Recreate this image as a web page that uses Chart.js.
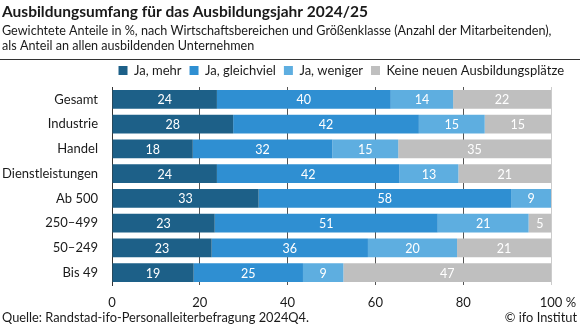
<!DOCTYPE html>
<html>
<head>
<meta charset="utf-8">
<script src="https://cdn.jsdelivr.net/npm/chart.js@4/dist/chart.umd.min.js"></script>
<style>
  html, body { margin: 0; padding: 0; background: #fff; }
  #wrap { width: 580px; height: 326px; position: relative; }
</style>
</head>
<body>
<div id="wrap"><canvas id="c" width="580" height="326"></canvas></div>
<script>
const FONT = "Lato, 'Liberation Sans', sans-serif";

const titleText = "Ausbildungsumfang für das Ausbildungsjahr 2024/25";
const subtitleLines = [
  "Gewichtete Anteile in %, nach Wirtschaftsbereichen und Größenklasse (Anzahl der Mitarbeitenden),",
  "als Anteil an allen ausbildenden Unternehmen"
];
const sourceText = "Quelle: Randstad-ifo-Personalleiterbefragung 2024Q4.";
const creditText = "© ifo Institut";

const categories = ["Gesamt", "Industrie", "Handel", "Dienstleistungen", "Ab 500", "250–499", "50–249", "Bis 49"];
const seriesNames = ["Ja, mehr", "Ja, gleichviel", "Ja, weniger", "Keine neuen Ausbildungsplätze"];
const jaMehr        = [23.9, 27.6, 18.4, 23.9, 33.4, 23.4, 22.7, 18.6];
const jaGleichviel  = [39.6, 42.3, 31.8, 41.6, 57.5, 50.8, 35.6, 24.9];
const jaWeniger     = [14.2, 15.0, 15.0, 13.4,  9.1, 20.7, 20.3,  9.2];
const keineNeuen    = [22.3, 15.1, 34.8, 21.1,  0.0,  5.1, 21.4, 47.3];
const xTicks = [0, 20, 40, 60, 80, 100];
const colors = ["#1d6088", "#2f8fd2", "#5eaee0", "#bfbfbf"];

const headerFooter = {
  id: 'headerFooter',
  afterDraw(chart) {
    const ctx = chart.ctx;
    ctx.save();
    ctx.fillStyle = '#1a1a1a';
    ctx.textBaseline = 'middle';
    ctx.textAlign = 'left';
    ctx.font = "bold 15.5px " + FONT;
    ctx.fillText(titleText, 2, 12);
    ctx.font = "12.6px " + FONT;
    ctx.fillText(subtitleLines[0], 2, 31);
    ctx.fillText(subtitleLines[1], 2, 46);
    ctx.strokeStyle = '#333';
    ctx.lineWidth = 1;
    ctx.beginPath();
    ctx.moveTo(0, 59.5);
    ctx.lineTo(580, 59.5);
    ctx.stroke();
    ctx.font = "12.8px " + FONT;
    ctx.fillText(sourceText, 2, 318);
    ctx.textAlign = 'right';
    ctx.fillText(creditText, 577, 318);
    // percent sign after last x tick
    const xs = chart.scales.x;
    ctx.font = "13px " + FONT;
    const px = xs.getPixelForValue(100);
    const w = ctx.measureText("100").width;
    ctx.textAlign = 'left';
    ctx.fillText(" %", px + w / 2, 303);
    ctx.restore();
  }
};

const barLabels = {
  id: 'barLabels',
  afterDatasetsDraw(chart) {
    const ctx = chart.ctx;
    ctx.save();
    ctx.fillStyle = '#ffffff';
    ctx.font = "12.5px " + FONT;
    ctx.textAlign = 'center';
    ctx.textBaseline = 'middle';
    chart.data.datasets.forEach((ds, i) => {
      const meta = chart.getDatasetMeta(i);
      meta.data.forEach((el, j) => {
        const v = ds.data[j];
        if (v < 1) return;
        const p = el.getCenterPoint();
        ctx.fillText(String(Math.round(v)), p.x, p.y + 1);
      });
    });
    ctx.restore();
  }
};

const seriesData = [jaMehr, jaGleichviel, jaWeniger, keineNeuen];

new Chart(document.getElementById('c'), {
  type: 'bar',
  data: {
    labels: categories,
    datasets: seriesNames.map((n, i) => ({
      label: n,
      data: seriesData[i],
      backgroundColor: colors[i],
      borderWidth: 0,
      barPercentage: 0.76,
      categoryPercentage: 1.0
    }))
  },
  options: {
    indexAxis: 'y',
    responsive: false,
    animation: false,
    devicePixelRatio: 1,
    layout: { padding: { top: 56, right: 8, bottom: 16, left: 0 } },
    plugins: {
      title: { display: false },
      tooltip: { enabled: false },
      legend: {
        display: true,
        position: 'top',
        align: 'end',
        labels: {
          font: { family: FONT, size: 13 },
          color: '#1a1a1a',
          boxWidth: 9,
          boxHeight: 9,
          padding: 8
        }
      }
    },
    scales: {
      x: {
        stacked: true,
        min: 0,
        max: 100,
        afterBuildTicks(s) { s.ticks = xTicks.map(v => ({ value: v })); },
        afterFit(s) { s.height = 25; },
        ticks: {
          font: { family: FONT, size: 13 },
          color: '#1a1a1a',
          padding: 10,
          maxRotation: 0,
          callback: v => String(v)
        },
        grid: {
          drawTicks: false,
          color: ctx => (ctx.tick && ctx.tick.value === 100) ? '#cccccc' : '#555555',
          lineWidth: 1
        },
        border: { display: false }
      },
      y: {
        stacked: true,
        afterFit(s) { s.width = 112; },
        ticks: {
          font: { family: FONT, size: 13 },
          color: '#1a1a1a',
          padding: 14
        },
        grid: { display: false, drawTicks: false },
        border: { display: true, color: '#333333', width: 1 }
      },
      yR: {
        type: 'category',
        labels: categories,
        position: 'right',
        display: true,
        afterFit(s) { s.width = 21; },
        ticks: { display: false },
        grid: { display: false, drawTicks: false },
        border: { display: false }
      }
    }
  },
  plugins: [headerFooter, barLabels]
});
</script>
</body>
</html>
